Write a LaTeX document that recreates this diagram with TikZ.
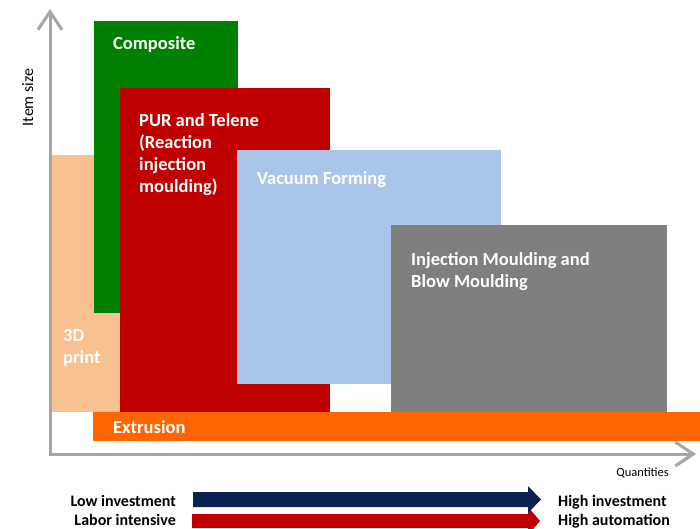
\documentclass[tikz,border=0pt]{standalone}
\usepackage{fontspec}
\setmainfont{Carlito}
\usetikzlibrary{arrows.meta}
\definecolor{cpeach}{HTML}{F9C192}
\definecolor{cgreen}{HTML}{008000}
\definecolor{cred}{HTML}{C00000}
\definecolor{cblue}{HTML}{A9C5E9}
\definecolor{cgrey}{HTML}{7F7F7F}
\definecolor{corange}{HTML}{FF6600}
\definecolor{cnavy}{HTML}{0B2253}
\definecolor{caxis}{HTML}{A6A6A6}
\begin{document}
\begin{tikzpicture}[x=1pt,y=-1pt,
  boxlabel/.style={anchor=base west, inner sep=0pt, text=white, align=left,
    font=\bfseries\fontsize{18.5}{22}\selectfont},
  sidelabel/.style={inner sep=0pt, text=black, font=\bfseries\fontsize{16}{19}\selectfont},
  axisline/.style={draw=caxis, line width=3pt, line join=miter,
    {Straight Barb[length=18pt,width=24pt]}-{Straight Barb[length=18pt,width=24pt]}}]
\useasboundingbox (0,0) rectangle (700,529);
% boxes
\fill[cpeach] (50,155) rectangle (120,412);
\fill[cgreen] (94,21) rectangle (238,313);
\fill[cred] (120,88) rectangle (330,412);
\fill[cblue] (237,150) rectangle (501,384);
\fill[cgrey] (391,225) rectangle (667,412);
\fill[corange] (93,412) rectangle (700,441);
% axes
\coordinate (ytip) at (50,9);
\coordinate (origin) at (50,454);
\coordinate (xtip) at (696,454);
\draw[axisline] (ytip) -- (origin) -- (xtip);
% labels in boxes (anchor = baseline of last line)
\node[boxlabel] (composite) at (113,49.5) {Composite};
\node[boxlabel] (pur) at (139,193) {PUR and Telene\\(Reaction\\injection\\moulding)};
\node[boxlabel] (vacuum) at (257,185) {Vacuum Forming};
\node[boxlabel] (injection) at (411,287) {Injection Moulding and\\Blow Moulding};
\node[boxlabel] (print) at (63,363) {3D\\print};
\node[boxlabel] (extrusion) at (113,433) {Extrusion};
% axis labels
\node[rotate=90, anchor=base, inner sep=0pt, font=\fontsize{16}{18}\selectfont] (itemsize) at (33,97.5) {Item size};
\node[anchor=base east, inner sep=0pt, font=\fontsize{12.5}{14}\selectfont] (quant) at (669,476) {Quantities};
% bottom arrows
\fill[cred] (192,514) -- (528,514) -- (528,507) -- (540,521) -- (528,535) -- (528,528) -- (192,528) -- cycle;
\fill[cnavy] (193,492) -- (528,492) -- (528,486) -- (541,499.5) -- (528,513) -- (528,507) -- (193,507) -- cycle;
\node[sidelabel, anchor=base east] (lowinv) at (176,506) {Low investment};
\node[sidelabel, anchor=base east] (labor) at (176,525) {Labor intensive};
\node[sidelabel, anchor=base west] (highinv) at (558,506) {High investment};
\node[sidelabel, anchor=base west] (highaut) at (558,525) {High automation};
\end{tikzpicture}
\end{document}
